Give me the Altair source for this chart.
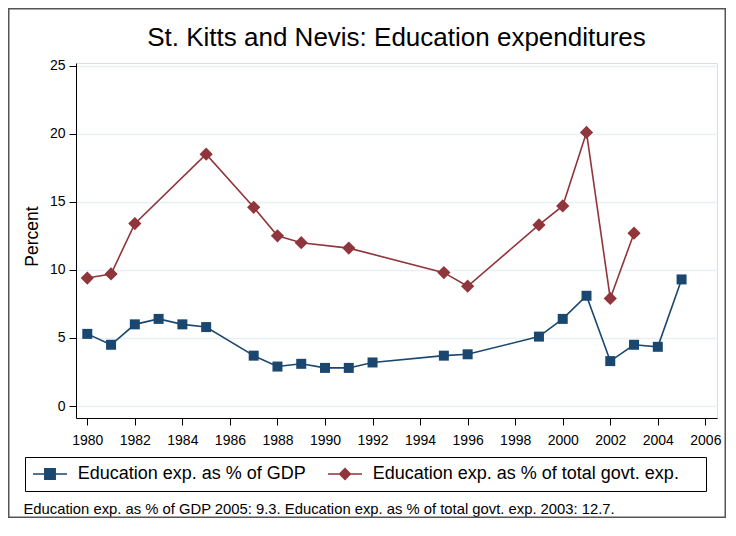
import altair as alt
import pandas as pd

title_text = "St. Kitts and Nevis: Education expenditures"
s_gdp = "Education exp. as % of GDP"
s_gov = "Education exp. as % of total govt. exp."
series_names = [s_gdp, s_gov]

years_gdp = [1980, 1981, 1982, 1983, 1984, 1985, 1987, 1988, 1989, 1990, 1991,
             1992, 1995, 1996, 1999, 2000, 2001, 2002, 2003, 2004, 2005]
gdp = [5.3, 4.5, 6.0, 6.4, 6.0, 5.8, 3.7, 2.9, 3.1, 2.8, 2.8,
       3.2, 3.7, 3.8, 5.1, 6.4, 8.1, 3.3, 4.5, 4.35, 9.3]
years_gov = [1980, 1981, 1982, 1985, 1987, 1988, 1989, 1991, 1995, 1996,
             1999, 2000, 2001, 2002, 2003]
gov = [9.4, 9.7, 13.4, 18.5, 14.6, 12.5, 12.0, 11.6, 9.8, 8.8,
       13.3, 14.7, 20.1, 7.9, 12.7]

x_ticks = list(range(1980, 2007, 2))
y_ticks = [0, 5, 10, 15, 20, 25]
colors = ["#1a476f", "#90353b"]

note = (f"{s_gdp} {years_gdp[-1]}: {gdp[-1]}. "
        f"{s_gov} {years_gov[-1]}: {gov[-1]}.")

df = pd.concat([
    pd.DataFrame({"year": years_gdp, "value": gdp, "series": s_gdp}),
    pd.DataFrame({"year": years_gov, "value": gov, "series": s_gov}),
], ignore_index=True)

FONT = "Liberation Sans"
W, H = 641, 355
PL, PT, PR, PB = 68, 55, 9, 100

# legend colour scale (domain in legend order)
leg_scale = alt.Scale(domain=series_names, range=colors)
# mark colour scale (same mapping, listed in reverse so it stays separate
# from the legend's scale)
mark_scale = alt.Scale(domain=series_names[::-1], range=colors[::-1])

x_enc = alt.X("year:Q",
              scale=alt.Scale(domain=[1979.525, 2006.49], nice=False, zero=False),
              axis=alt.Axis(values=x_ticks, format="d", grid=False,
                            title=note, titleFont=FONT, titleFontSize=14.8,
                            titleFontWeight="normal", titleColor="black",
                            titleX=-53, titleY=95.5, titleAlign="left",
                            titleBaseline="alphabetic", titleAnchor="start",
                            labelFont=FONT, labelFontSize=14, labelColor="black",
                            labelBaseline="alphabetic", labelPadding=19.3,
                            tickSize=7, tickColor="black", tickWidth=1,
                            domainColor="black", domainWidth=1))
y_enc = alt.Y("value:Q",
              scale=alt.Scale(domain=[-0.88, 25.2], nice=False, zero=False),
              axis=alt.Axis(values=y_ticks, grid=True, gridColor="#e9f0f3",
                            gridWidth=1.5,
                            title="Percent", titleFont=FONT, titleFontSize=17.5,
                            titleFontWeight="normal", titleColor="black",
                            titleX=-39, titleY=173, titleBaseline="alphabetic",
                            titleAlign="center", titleAngle=270,
                            labelFont=FONT, labelFontSize=14, labelColor="black",
                            labelPadding=4,
                            tickSize=7, tickColor="black", tickWidth=1,
                            domainColor="black", domainWidth=1))

base = alt.Chart(df)

frame = alt.Chart(pd.DataFrame({"f": [0]})).mark_rect(
    fill="transparent", stroke="#555555", strokeWidth=1.5
).encode(
    x=alt.value(-PL + 0.75), x2=alt.value(W + PR - 0.75),
    y=alt.value(-PT + 0.75), y2=alt.value(H + PB - 0.75),
)

lines = base.mark_line(strokeWidth=1.6).encode(
    x=x_enc, y=y_enc,
    stroke=alt.Stroke("series:N", scale=mark_scale, legend=None),
)

pts_gdp = base.transform_filter(alt.datum.series == s_gdp).mark_point(
    shape="square", filled=True, size=100, opacity=1, strokeWidth=0
).encode(x=x_enc, y=y_enc,
         fill=alt.Fill("series:N", scale=mark_scale, legend=None))

pts_gov = base.transform_filter(alt.datum.series == s_gov).mark_point(
    shape="diamond", filled=True, size=175, opacity=1, strokeWidth=0
).encode(x=x_enc, y=y_enc,
         fill=alt.Fill("series:N", scale=mark_scale, legend=None))

sym_paths = [
    "M-1,-0.05H1V0.05H-1Z M-0.35,-0.35H0.35V0.35H-0.35Z",
    "M-1,-0.05H1V0.05H-1Z M0,-0.38L0.38,0L0,0.38L-0.38,0Z",
]
pad_sp = "\u00a0\u00a0\u00a0\u2009\u200b"
leg = alt.Legend(
    title=None, orient="none", legendX=-51, legendY=394,
    direction="horizontal", columns=2, clipHeight=18,
    symbolSize=1156, symbolStrokeWidth=0, symbolOpacity=1,
    labelFont=FONT, labelFontSize=18, labelColor="black", labelLimit=600,
    labelOffset=10.7, columnPadding=22, padding=8,
    strokeColor="black", fillColor="white",
    labelExpr="datum.index == 1 ? datum.label + '" + pad_sp + "' : datum.label",
)
legend_layer = base.mark_point(filled=True, opacity=0).encode(
    x=x_enc, y=y_enc,
    color=alt.Color("series:N", scale=leg_scale, legend=leg),
    shape=alt.Shape("series:N",
                    scale=alt.Scale(domain=series_names, range=sym_paths),
                    legend=leg),
)

chart = alt.layer(frame, lines, pts_gdp, pts_gov, legend_layer).properties(
    width=W, height=H,
    title=alt.TitleParams(text=title_text, font=FONT, fontSize=26,
                          fontWeight="normal", color="black", anchor="middle",
                          baseline="alphabetic", offset=0, dy=64, frame="group"),
    autosize=alt.AutoSizeParams(type="none"),
    padding={"left": PL, "top": PT, "right": PR, "bottom": PB},
).configure_view(stroke=None).configure(background="white")

chart.save("out.html", embed_options={"renderer": "svg", "actions": False})
